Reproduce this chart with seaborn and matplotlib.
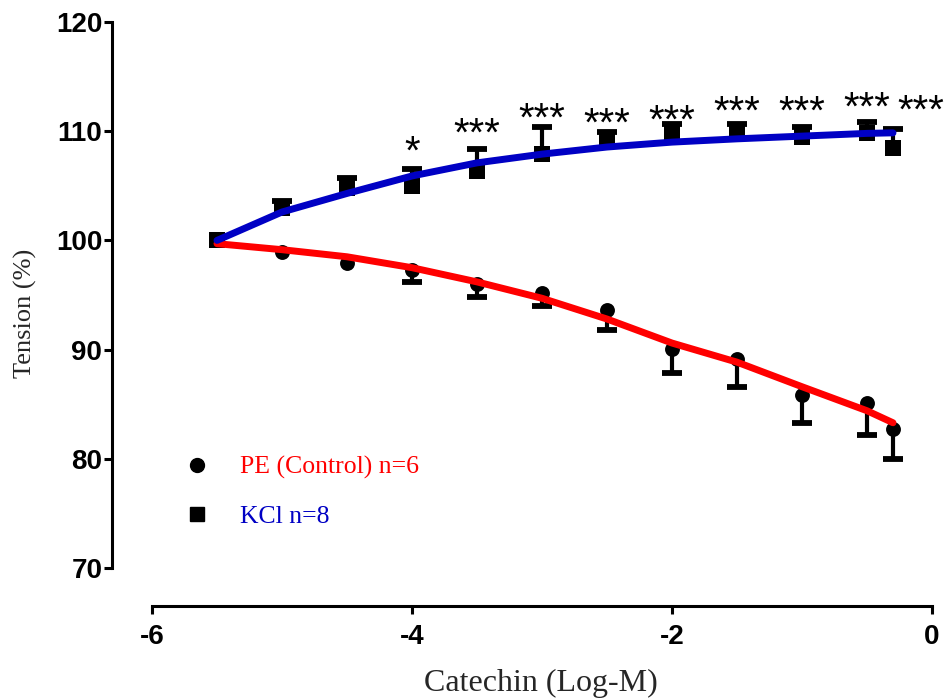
import numpy as np
import pandas as pd
import matplotlib
matplotlib.use("Agg")
import matplotlib.pyplot as plt
from matplotlib.lines import Line2D
import seaborn as sns

# ---- data ----
log_conc = [-5.5, -5.0, -4.5, -4.0, -3.5, -3.0, -2.5, -2.0, -1.5, -1.0, -0.5, -0.3]

pe_mean = [100.0, 98.9, 97.9, 97.3, 96.0, 95.2, 93.6, 90.1, 89.1, 85.8, 85.1, 82.7]
pe_sem = [0.0, 0.0, 0.0, 1.1, 1.2, 1.2, 1.8, 2.2, 2.5, 2.5, 2.9, 2.7]

kcl_mean = [100.0, 103.0, 104.8, 105.0, 106.4, 107.9, 109.2, 109.8, 110.0, 109.5, 109.8, 108.5]
kcl_sem = [0.0, 0.6, 0.9, 1.5, 2.0, 2.5, 0.7, 0.9, 0.7, 0.9, 1.0, 1.7]

# fitted curves read at the same concentrations
pe_fit = [99.7, 99.15, 98.5, 97.5, 96.2, 94.7, 92.8, 90.6, 88.85, 86.6, 84.4, 83.3]
kcl_fit = [100.0, 102.6, 104.3, 105.9, 107.1, 107.9, 108.55, 109.0, 109.3, 109.55, 109.8, 109.85]

# significance marks and the level (Tension %) at which each is shown
sig_marks = ["", "", "", "*", "***", "***", "***", "***", "***", "***", "***", "***"]
sig_level = [0, 0, 0, 108.7, 110.4, 111.75, 111.3, 111.6, 112.4, 112.4, 112.8, 112.5]

x_ticks = [-6, -4, -2, 0]
y_ticks = [70, 80, 90, 100, 110, 120]

label_pe = "PE (Control) n=6"
label_kcl = "KCl n=8"

# ---- styling ----
sns.set_theme(style="ticks")
plt.rcParams["font.family"] = ["Liberation Sans", "DejaVu Sans"]

RED = "#FF0000"
BLUE = "#0000C4"
sans = ["Liberation Sans", "DejaVu Sans"]
serif = ["Liberation Serif", "DejaVu Serif"]

df = pd.DataFrame({
    "x": log_conc + log_conc,
    "mean": pe_mean + kcl_mean,
    "sem": pe_sem + kcl_sem,
    "fit": pe_fit + kcl_fit,
    "group": ["PE"] * len(log_conc) + ["KCl"] * len(log_conc),
})
df["end"] = np.where(df.group == "PE", df["mean"] - df["sem"], df["mean"] + df["sem"])

fig = plt.figure(figsize=(9.47, 7.0), dpi=100)
ax = fig.add_axes([152 / 947, (700 - 568) / 700, 780 / 947, 546 / 700])

# one-sided error bars: stem + cap at far end only
bars = df[df["sem"] > 0]
ax.vlines(bars["x"], bars["mean"], bars["end"], color="black", linewidth=3.0, zorder=2)
ax.plot(bars["x"], bars["end"], linestyle="none", marker="_", markersize=15,
        markeredgewidth=4.2, color="black", zorder=2)

# markers
sns.scatterplot(data=df[df.group == "PE"], x="x", y="mean", marker="o", s=115,
                color="black", edgecolor="black", linewidth=0, ax=ax, zorder=3, legend=False)
sns.scatterplot(data=df[df.group == "KCl"], x="x", y="mean", marker="s", s=120,
                color="black", edgecolor="black", linewidth=0, ax=ax, zorder=3, legend=False)

# fitted curves
sns.lineplot(data=df[df.group == "PE"], x="x", y="fit", color=RED, linewidth=5.0,
             ax=ax, zorder=4, legend=False)
sns.lineplot(data=df[df.group == "KCl"], x="x", y="fit", color=BLUE, linewidth=5.0,
             ax=ax, zorder=4, legend=False)

# significance stars (asterisk ink sits slightly above the text-box centre)
for xi, lvl, s in zip(log_conc, sig_level, sig_marks):
    if s:
        xo = xi + (0.215 if xi == log_conc[-1] else 0.0)
        ax.text(xo, lvl - 0.7, s, ha="center", va="center", fontsize=29,
                family=sans, color="black", clip_on=False)

ax.set_xlim(-6, 0)
ax.set_ylim(70, 120)
ax.set_xticks(x_ticks)
ax.set_yticks(y_ticks)

for side in ["top", "right"]:
    ax.spines[side].set_visible(False)
ax.spines["left"].set_position(("outward", 28.8))
ax.spines["bottom"].set_position(("outward", 27.4))
ax.spines["left"].set_bounds(70, 120)
ax.spines["bottom"].set_bounds(-6, 0)
for side in ["left", "bottom"]:
    ax.spines[side].set_linewidth(2.2)
    ax.spines[side].set_color("black")
ax.tick_params(axis="both", direction="out", length=6, width=2.2, colors="black",
               labelsize=20)
ax.tick_params(axis="x", pad=7)
ax.tick_params(axis="y", pad=1)
ax.set_xticklabels([str(v) for v in x_ticks], fontsize=20, fontweight="bold", family=sans)
ax.set_yticklabels([str(v) for v in y_ticks], fontsize=20, fontweight="bold", family=sans)

ax.set_xlabel("Catechin (Log-M)", fontsize=23, family=serif)
ax.set_ylabel("Tension (%)", fontsize=19, family=serif)
ax.xaxis.set_label_coords(0.499, (568 - 683) / 546)
ax.xaxis.label.set_verticalalignment("center")
ax.yaxis.set_label_coords((25 - 152) / 780, (568 - 313) / 546)
ax.yaxis.label.set_verticalalignment("center")

handles = [
    Line2D([], [], marker="o", color="black", linestyle="none", markersize=10),
    Line2D([], [], marker="s", color="black", linestyle="none", markersize=10),
]
leg = ax.legend(handles, [label_pe, label_kcl], loc="center left",
                bbox_to_anchor=((176 - 152) / 780, (568 - 492) / 546),
                frameon=False, prop={"family": serif, "size": 18.5},
                handletextpad=1.3, labelspacing=1.0, handlelength=0.8,
                borderaxespad=0, labelcolor=[RED, BLUE])

fig.savefig("out.png", dpi=100, facecolor="white")
